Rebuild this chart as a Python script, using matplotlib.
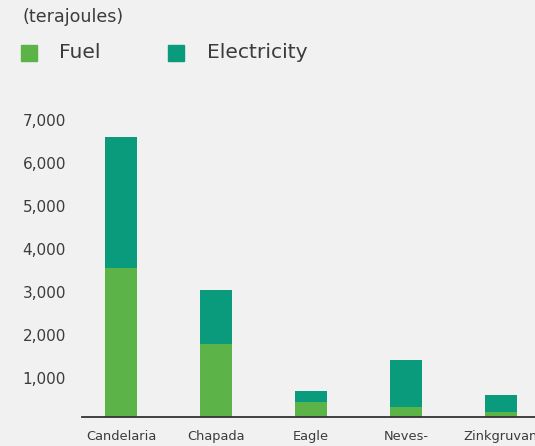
import matplotlib.pyplot as plt
from matplotlib.patches import Rectangle
from matplotlib.transforms import ScaledTranslation

# energy use by site (terajoules)
sites = ["Candelaria", "Chapada", "Eagle", "Neves-\nCorvo", "Zinkgruvan"]
fuel = [3470, 1700, 350, 230, 120]
electricity = [3040, 1250, 250, 1100, 390]
yticks = [1000, 2000, 3000, 4000, 5000, 6000, 7000]

FUEL_C = "#5cb347"
ELEC_C = "#0a9a7c"
BG = "#f1f1f1"
TXT = "#3c3c3c"

W, H, DPI = 535, 446, 100
fig = plt.figure(figsize=(W / DPI, H / DPI), dpi=DPI, facecolor=BG)
ax = fig.add_axes([82 / W, 1 - 417 / H, 453 / W, 301 / H], facecolor=BG)

x = range(len(sites))
ax.bar(x, fuel, width=0.337, color=FUEL_C, zorder=2)
ax.bar(x, electricity, width=0.337, bottom=fuel, color=ELEC_C, zorder=2)

ax.set_xlim(-0.41, 4.358)
ax.set_ylim(0, 7000)

ax.set_yticks(yticks)
ax.set_yticklabels([f"{v:,}" for v in yticks])
ax.set_xticks(list(x))
ax.set_xticklabels(sites, linespacing=1.9)
ax.tick_params(axis="y", length=0, pad=11.5, labelsize=11, labelcolor=TXT)
ax.tick_params(axis="x", length=0, pad=9.5, labelsize=9.4, labelcolor=TXT)
for lab in ax.get_yticklabels():
    lab.set_transform(lab.get_transform() + ScaledTranslation(0, -4 / DPI, fig.dpi_scale_trans))

for s in ["top", "right", "left"]:
    ax.spines[s].set_visible(False)
ax.spines["bottom"].set_color("#333333")
ax.spines["bottom"].set_linewidth(1.3)
ax.spines["bottom"].set_zorder(3)

# title and legend
fig.text(22 / W, 1 - 17 / H, "(terajoules)", fontsize=12.6, color=TXT, ha="left", va="center")
for sx, tx, name, col in [(21, 59, "Fuel", FUEL_C), (168, 207, "Electricity", ELEC_C)]:
    fig.patches.append(Rectangle((sx / W, 1 - 61 / H), 16 / W, 16 / H,
                                 transform=fig.transFigure, color=col, figure=fig))
    fig.text(tx / W, 1 - 53 / H, name, fontsize=14.6, color=TXT, ha="left", va="center")

fig.savefig("out.png", dpi=DPI, facecolor=BG)
